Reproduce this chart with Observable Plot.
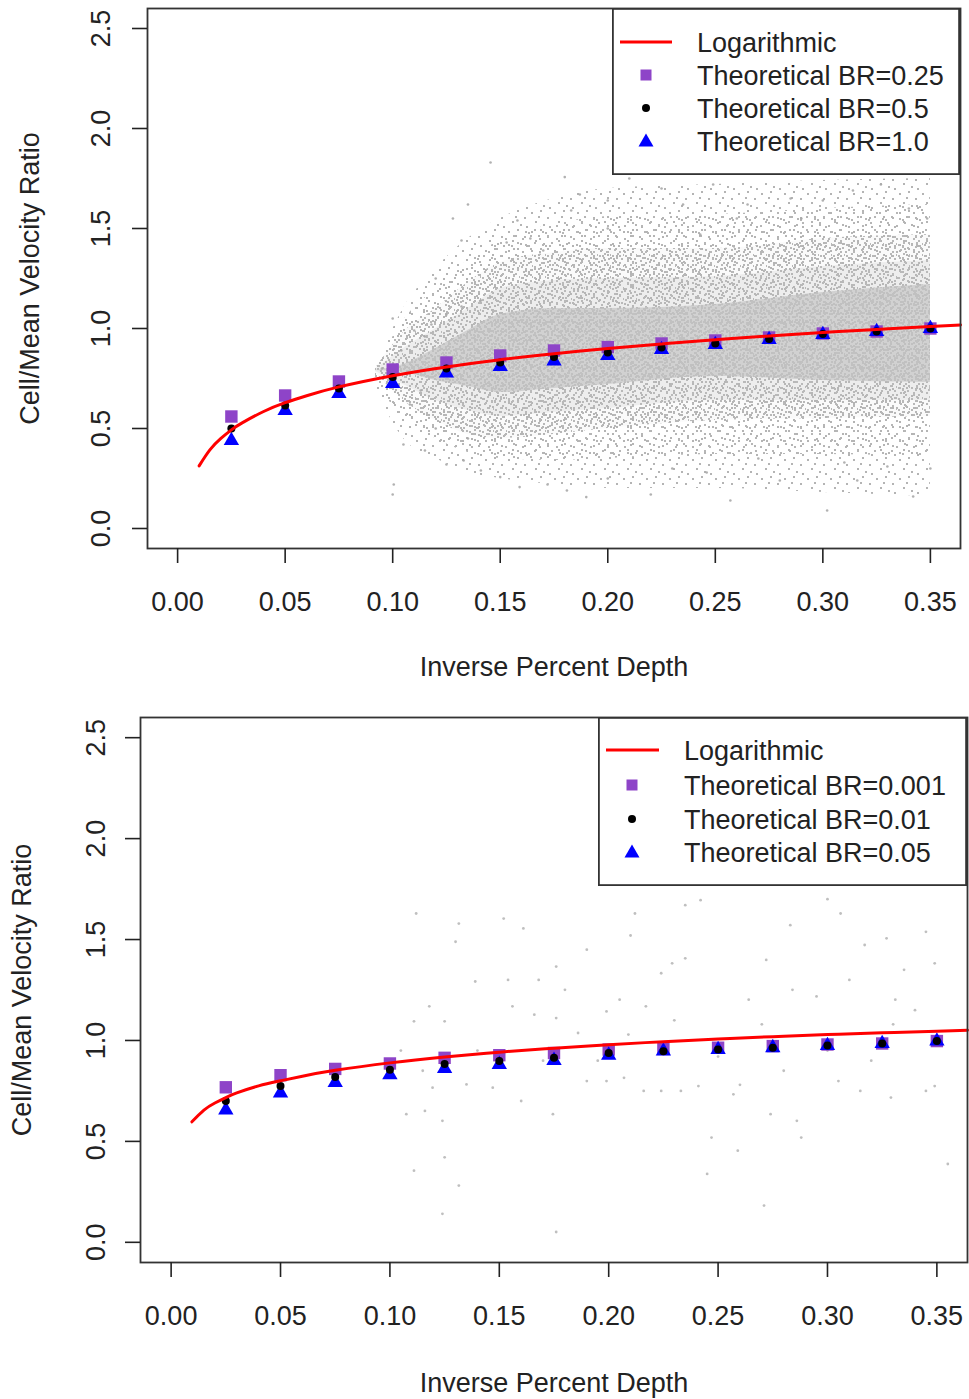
<!DOCTYPE html>
<html><head><meta charset="utf-8">
<script src="https://cdn.jsdelivr.net/npm/d3@7"></script>
<script src="https://cdn.jsdelivr.net/npm/@observablehq/plot@0.6"></script>
<style>
body{margin:0;background:#fff;font-family:"Liberation Sans",Arial,sans-serif;color:#222;}
.panel{position:relative;width:969px;}
.legend{position:absolute;}
</style></head><body>
<div id="top" class="panel" style="height:700px"></div>
<div id="bot" class="panel" style="height:699px"></div>
<script>
// ---------- shared axes ----------
const xTicks = [0, 0.05, 0.10, 0.15, 0.20, 0.25, 0.30, 0.35];
const xTickLabels = ["0.00","0.05","0.10","0.15","0.20","0.25","0.30","0.35"];
const yTicks = [0, 0.5, 1.0, 1.5, 2.0, 2.5];
const yTickLabels = ["0.0","0.5","1.0","1.5","2.0","2.5"];
const xLabel = "Inverse Percent Depth";
const yLabel = "Cell/Mean Velocity Ratio";
const depth = [0.025,0.05,0.075,0.10,0.125,0.15,0.175,0.20,0.225,0.25,0.275,0.30,0.325,0.35];

// ---------- top panel ----------
const topNames = ["Logarithmic","Theoretical BR=0.25","Theoretical BR=0.5","Theoretical BR=1.0"];
const topBR025 = [0.56,0.665,0.735,0.795,0.83,0.865,0.89,0.907,0.925,0.94,0.955,0.975,0.985,1.0];
const topBR05  = [0.50,0.615,0.70,0.757,0.80,0.83,0.857,0.88,0.905,0.925,0.948,0.972,0.985,1.0];
const topBR10  = [0.44,0.59,0.675,0.725,0.777,0.81,0.837,0.865,0.895,0.92,0.945,0.97,0.985,1.0];
const topLogX = [0.01,0.015,0.02,0.025,0.03,0.04,0.05,0.06,0.075,0.10,0.125,0.15,0.175,0.20,0.225,0.25,0.275,0.30,0.325,0.35,0.364];
const topLogY = [0.313,0.393,0.449,0.493,0.528,0.585,0.629,0.664,0.708,0.764,0.808,0.844,0.874,0.900,0.923,0.944,0.963,0.980,0.995,1.010,1.018];
// observed cloud envelopes, from sparse outer fringe to dense core
const topCloudX   = [0.092,0.105,0.12,0.135,0.15,0.175,0.20,0.25,0.30,0.35];
const topSparseLo = [0.70,0.45,0.35,0.28,0.25,0.22,0.20,0.20,0.18,0.16];
const topSparseHi = [0.80,1.10,1.30,1.45,1.55,1.65,1.70,1.72,1.74,1.75];
const topOuterLo  = [0.74,0.55,0.45,0.38,0.35,0.34,0.35,0.37,0.37,0.36];
const topOuterHi  = [0.80,1.04,1.20,1.34,1.44,1.52,1.56,1.57,1.60,1.62];
const topMidLo    = [0.78,0.64,0.54,0.47,0.45,0.47,0.50,0.54,0.55,0.56];
const topMidHi    = [0.80,0.98,1.10,1.23,1.33,1.38,1.40,1.40,1.45,1.47];
const topInnerLo  = [0.785,0.72,0.64,0.59,0.56,0.58,0.60,0.64,0.64,0.64];
const topInnerHi  = [0.795,0.90,1.00,1.10,1.20,1.24,1.25,1.26,1.31,1.34];
const topDenseLo  = [0.79,0.78,0.74,0.71,0.68,0.70,0.72,0.76,0.74,0.73];
const topDenseHi  = [0.79,0.82,0.90,0.99,1.07,1.10,1.10,1.12,1.18,1.22];
const topPoints = [[0.1455,1.83],[0.180,1.757],[0.183,1.59],[0.135,1.62],[0.128,1.55],[0.158,1.54],[0.132,1.44],[0.153,1.43],[0.164,1.45],[0.170,1.39],[0.187,1.67],[0.200,1.64],[0.110,0.99],[0.118,1.02],[0.104,0.89],[0.115,0.96],[0.132,1.11],[0.125,1.07],[0.141,1.14],[0.108,0.62],[0.113,0.69],[0.105,0.42],[0.115,0.39],[0.125,0.32],[0.1005,0.22],[0.141,0.29],[0.133,0.34],[0.150,0.257],[0.159,0.207],[0.172,0.22],[0.181,0.19],[0.190,0.157],[0.249,1.72],[0.265,1.62],[0.285,1.65],[0.300,1.64],[0.314,1.69],[0.327,1.72],[0.3485,1.55],[0.243,1.47],[0.257,0.14],[0.280,0.24],[0.316,0.24],[0.342,0.16],[0.302,0.09],[0.246,0.28],[0.330,0.31],[0.10,0.17],[0.21,1.75],[0.225,1.70],[0.235,1.62],[0.22,0.17],[0.20,0.25],[0.23,0.30],[0.27,0.35],[0.31,0.33],[0.35,0.30],[0.29,1.55],[0.34,1.60],[0.26,1.55],[0.20,1.50],[0.12,1.25],[0.095,0.80],[0.10,1.05],[0.12,0.50],[0.135,0.45]];

// ---------- bottom panel ----------
const botNames = ["Logarithmic","Theoretical BR=0.001","Theoretical BR=0.01","Theoretical BR=0.05"];
const botBR001 = [0.768,0.828,0.859,0.886,0.914,0.927,0.938,0.955,0.958,0.964,0.972,0.98,0.985,0.997];
const botBR01  = [0.70,0.774,0.819,0.855,0.884,0.898,0.914,0.938,0.947,0.955,0.964,0.975,0.985,0.997];
const botBR05  = [0.655,0.74,0.791,0.83,0.861,0.881,0.901,0.927,0.947,0.955,0.964,0.975,0.985,0.997];
const botLogX = [0.0095,0.015,0.02,0.025,0.03,0.04,0.05,0.06,0.075,0.10,0.125,0.15,0.175,0.20,0.225,0.25,0.275,0.30,0.325,0.35,0.364];
const botLogY = [0.597,0.655,0.69,0.717,0.74,0.775,0.80,0.823,0.852,0.889,0.918,0.942,0.962,0.979,0.994,1.007,1.019,1.029,1.038,1.046,1.051];
const botPoints = [[0.112,1.629],[0.1315,1.579],[0.152,1.604],[0.130,1.489],[0.176,1.366],[0.139,1.292],[0.154,1.300],[0.168,1.300],[0.180,1.251],[0.212,1.629],[0.235,1.670],[0.242,1.695],[0.283,1.571],[0.306,1.629],[0.317,1.473],[0.327,1.506],[0.345,1.538],[0.349,1.382],[0.272,1.399],[0.235,1.407],[0.229,1.382],[0.224,1.333],[0.284,1.251],[0.295,1.218],[0.331,1.202],[0.264,1.202],[0.217,1.169],[0.205,1.202],[0.199,1.144],[0.118,1.169],[0.125,1.095],[0.111,1.095],[0.156,1.169],[0.166,1.128],[0.176,1.111],[0.186,1.037],[0.209,1.029],[0.190,0.799],[0.199,0.799],[0.207,0.815],[0.216,0.750],[0.224,0.750],[0.233,0.750],[0.241,0.774],[0.257,0.733],[0.274,0.635],[0.286,0.602],[0.305,0.799],[0.315,0.750],[0.329,0.717],[0.345,0.750],[0.349,0.774],[0.135,0.782],[0.147,0.766],[0.1195,0.766],[0.1075,0.635],[0.116,0.651],[0.124,0.602],[0.1745,0.635],[0.247,0.519],[0.288,0.519],[0.259,0.454],[0.355,0.388],[0.125,0.421],[0.111,0.355],[0.1315,0.281],[0.245,0.339],[0.271,0.182],[0.176,0.051],[0.124,0.141],[0.161,1.555],[0.14,0.95],[0.195,0.90],[0.25,0.92],[0.30,0.95],[0.32,0.90],[0.27,1.08],[0.33,1.08],[0.17,0.90],[0.23,1.10],[0.28,0.85],[0.34,1.15],[0.115,0.85],[0.105,0.95],[0.16,0.70],[0.26,0.78],[0.31,1.30],[0.335,1.35],[0.19,1.45],[0.21,1.52],[0.30,1.70]];

const PURPLE = "#8E44C8", BLUE = "#0000FF", RED = "#FF0000", FRAME = "#333";
const FONT = "'Liberation Sans', Arial, sans-serif";
const FS = 27;

function addSpeckles(svgNode, id) {
  const defs = d3.select(svgNode).insert("defs", ":first-child");
  const mk = (name, w, h, dots, col) => {
    const p = defs.append("pattern").attr("id", id + name).attr("patternUnits", "userSpaceOnUse")
      .attr("width", w).attr("height", h);
    dots.forEach(([x, y]) => p.append("rect").attr("x", x).attr("y", y).attr("width", 2).attr("height", 2).attr("fill", col));
  };
  mk("s", 23, 19, [[2,3],[11,1],[18,8],[6,12],[14,15],[20,17],[9,7]], "#b4b4b4");
  mk("o", 17, 13, [[3,1],[12,4],[7,8],[15,10],[1,11]], "#b6b6b6");
  mk("m", 13, 11, [[1,2],[6,0],[10,5],[3,7],[8,9],[12,1],[5,4]], "#b8b8b8");
  mk("d", 7, 9, [[1,1],[4,4],[0,6],[5,7]], "#c0c0c0");
}

function drawPanel(el, o) {
  const rows = (ys) => depth.map((x, i) => ({x, y: ys[i]}));
  const logRows = o.logX.map((x, i) => ({x, y: o.logY[i]}));
  const marks = [];
  if (o.cloud) {
    const c = o.cloud;
    const band = (lo, hi) => c.x.map((x, i) => ({x, lo: lo[i], hi: hi[i]}));
    const area = (lo, hi, opts) => Plot.areaY(band(lo, hi), {x: "x", y1: "lo", y2: "hi", curve: "monotone-x", ...opts});
    marks.push(
      area(c.sLo, c.sHi, {fill: `url(#${o.id}s)`}),
      area(c.oLo, c.oHi, {fill: `url(#${o.id}o)`}),
      area(c.mLo, c.mHi, {fill: `url(#${o.id}m)`}),
      area(c.mLo, c.mHi, {fill: "#bdbdbd", fillOpacity: 0.08}),
      area(c.iLo, c.iHi, {fill: "#bdbdbd", fillOpacity: 0.22}),
      area(c.dLo, c.dHi, {fill: "#c4c4c4", fillOpacity: 0.7}),
      area(c.dLo, c.dHi, {fill: `url(#${o.id}d)`})
    );
  }
  marks.push(
    Plot.dot(o.points, {x: d => d[0], y: d => d[1], r: o.ptR, fill: "#a9a9a9", fillOpacity: o.ptOp, stroke: null}),
    Plot.dot(rows(o.s1), {x: "x", y: "y", symbol: "square", r: 7, fill: PURPLE}),
    Plot.dot(rows(o.s3), {x: "x", y: "y", symbol: "triangle", r: 5.7, fill: BLUE}),
    Plot.dot(rows(o.s2), {x: "x", y: "y", symbol: "circle", r: 4, fill: "black"}),
    Plot.line(logRows, {x: "x", y: "y", stroke: RED, strokeWidth: 3, curve: "natural"}),
    Plot.frame({stroke: FRAME, strokeWidth: 1.8}),
    Plot.axisX({ticks: xTicks, tickSize: 15, tickPadding: 28, tickFormat: d => xTickLabels[xTicks.indexOf(d)], fontSize: FS, label: null, strokeWidth: 1.6}),
    Plot.axisY({ticks: yTicks, tickSize: 15, tickPadding: o.yPad, tickRotate: -90, tickFormat: d => yTickLabels[yTicks.indexOf(d)], fontSize: FS, label: null, strokeWidth: 1.6}),
    Plot.text([xLabel], {frameAnchor: "bottom", dy: o.xlabDy, text: d => d, fontSize: FS, fill: "#222", textAnchor: "middle", lineAnchor: "middle"}),
    Plot.text([yLabel], {frameAnchor: "left", dx: o.ylabDx, rotate: -90, text: d => d, fontSize: FS, fill: "#222", textAnchor: "middle", lineAnchor: "middle"})
  );
  const chart = Plot.plot({
    width: 969, height: o.height,
    marginTop: o.mt, marginBottom: o.mb, marginLeft: o.ml, marginRight: o.mr,
    x: {domain: [-0.014, 0.364]},
    y: {domain: [-0.1, 2.6]},
    style: {fontFamily: FONT, color: "#222", background: "white", overflow: "visible"},
    marks
  });
  addSpeckles(chart, o.id);
  el.appendChild(chart);

  // legend box (HTML overlay)
  const L = o.leg;
  const svg = d3.create("svg").attr("class", "legend")
    .attr("width", L.w).attr("height", L.h)
    .style("left", L.left + "px").style("top", L.top + "px");
  svg.append("rect").attr("x", 0.9).attr("y", 0.9).attr("width", L.w - 1.8).attr("height", L.h - 1.8)
    .attr("fill", "white").attr("stroke", FRAME).attr("stroke-width", 1.8);
  const cy = L.rows, sx = 34;
  svg.append("line").attr("x1", 8).attr("x2", L.lineEnd).attr("y1", cy[0]).attr("y2", cy[0]).attr("stroke", RED).attr("stroke-width", 3);
  svg.append("rect").attr("x", sx - 5.5).attr("y", cy[1] - 5.5).attr("width", 11).attr("height", 11).attr("fill", PURPLE);
  svg.append("circle").attr("cx", sx).attr("cy", cy[2]).attr("r", 4).attr("fill", "black");
  svg.append("path").attr("d", `M${sx},${cy[3] - 7.5}L${sx + 7.5},${cy[3] + 5.5}L${sx - 7.5},${cy[3] + 5.5}Z`).attr("fill", BLUE);
  o.names.forEach((t, i) => {
    svg.append("text").attr("x", L.textX).attr("y", cy[i]).attr("dy", "0.36em")
      .attr("font-size", FS).attr("font-family", FONT).attr("fill", "#222").text(t);
  });
  el.appendChild(svg.node());
}

drawPanel(document.getElementById("top"), {
  id: "tp", height: 700, mt: 8, mb: 152, ml: 147, mr: 9,
  s1: topBR025, s2: topBR05, s3: topBR10, logX: topLogX, logY: topLogY,
  cloud: {x: topCloudX, sLo: topSparseLo, sHi: topSparseHi, oLo: topOuterLo, oHi: topOuterHi,
          mLo: topMidLo, mHi: topMidHi, iLo: topInnerLo, iHi: topInnerHi, dLo: topDenseLo, dHi: topDenseHi},
  points: topPoints, ptR: 1.3, ptOp: 0.9,
  yPad: 23, xlabDy: 119, ylabDx: -117,
  names: topNames,
  leg: {left: 612, top: 8, w: 348, h: 167, rows: [34, 67, 100, 133], lineEnd: 60, textX: 85}
});
drawPanel(document.getElementById("bot"), {
  id: "bt", height: 699, mt: 17, mb: 137, ml: 140, mr: 2,
  s1: botBR001, s2: botBR01, s3: botBR05, logX: botLogX, logY: botLogY,
  points: botPoints, ptR: 1.4, ptOp: 0.75,
  yPad: 21, xlabDy: 121, ylabDx: -118,
  names: botNames,
  leg: {left: 598, top: 17, w: 369, h: 169, rows: [33, 68, 102, 135], lineEnd: 61, textX: 86}
});
</script>
</body></html>
